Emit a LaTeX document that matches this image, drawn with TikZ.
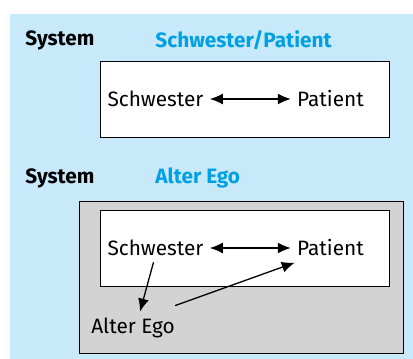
\documentclass[tikz,border=0pt]{standalone}
\usepackage{fontspec}
\setmainfont{Fira Sans}
\usetikzlibrary{arrows.meta,positioning}
\usepackage{xcolor}
\definecolor{sysBlue}{RGB}{199,233,250}
\definecolor{sysCyan}{RGB}{0,160,227}
\definecolor{sysGrey}{RGB}{211,211,211}
\tikzset{
    head/.style={
        anchor=west,inner sep=0pt,text=#1,
        font=\fontsize{10.4}{12}\selectfont\bfseries
    },
    head/.default=black,
    frame/.style={draw=black,line width=0.5pt,fill=#1},
    frame/.default=white,
    role/.style={inner sep=3pt,font=\fontsize{10.4}{12}\selectfont},
    link/.style={-{Latex[length=6.5pt,width=5.5pt]},line width=0.65pt},
    mutual/.style={{Latex[length=6.5pt,width=5.5pt]}-{Latex[length=6.5pt,width=5.5pt]},line width=0.65pt}
}

\begin{document}
\begin{tikzpicture}[x=0.5pt,y=-0.5pt]

\useasboundingbox (0,0) rectangle (413,359);
\fill[sysBlue] (10,14) rectangle (413,359);

% first system: nurse and patient only
\node[head] (sysA) at (25,40) {System};
\node[head=sysCyan] (titleA) at (155,40) {Schwester/Patient};
\draw[frame] (100,61) rectangle (389,137);
\node[role] (schwA) at (155.5,99) {Schwester};
\node[role] (patA) at (330.5,99) {Patient};
\draw[mutual] (schwA) -- (patA);

% second system: the alter ego joins in
\node[head] (sysB) at (25,178) {System};
\node[head=sysCyan] (titleB) at (155,178) {Alter Ego};
\draw[frame=sysGrey] (79,201) rectangle (403,353);
\draw[frame] (100,210) rectangle (389,286);
\node[role] (schwB) at (155.5,248) {Schwester};
\node[role] (patB) at (330.5,248) {Patient};
\node[role] (ego) at (133,328) {Alter Ego};
\draw[mutual] (schwB) -- (patB);
\draw[link] ([xshift=-1pt]schwB.south) -- ([xshift=3.5pt]ego.north);
\draw[link] ([shift={(-3pt,3pt)}]ego.north east) -- ([xshift=2pt]patB.south west);

\end{tikzpicture}
\end{document}
